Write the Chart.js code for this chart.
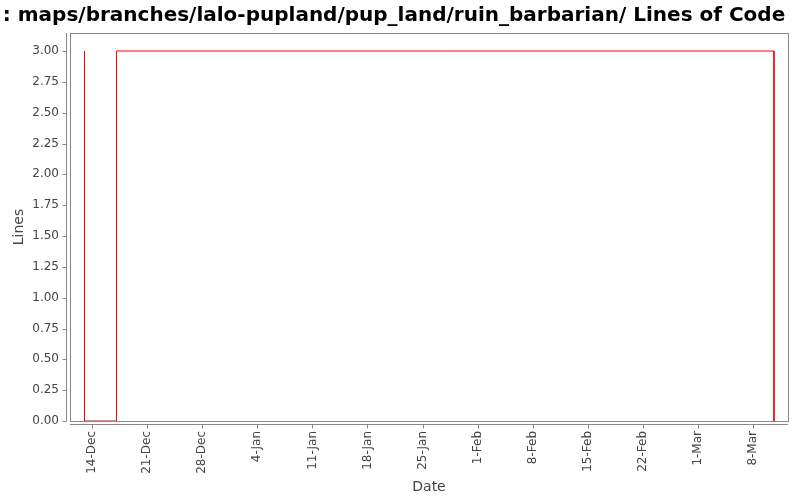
<!DOCTYPE html>
<html><head><meta charset="utf-8">
<script src="https://cdn.jsdelivr.net/npm/chart.js@4"></script>
<style>html,body{margin:0;padding:0;background:#fff}</style>
</head><body>
<canvas id="c" width="800" height="500" style="width:800px;height:500px"></canvas>
<script>
const titleText = ": maps/branches/lalo-pupland/pup_land/ruin_barbarian/ Lines of Code";
const dates = ["2008-12-13T01:12","2008-12-13T01:12","2008-12-17T02:46","2008-12-17T02:46","2009-03-10T15:22","2009-03-10T15:22"];
const lines = [3, 0, 0, 3, 3, 0];
const tickDates = ["2008-12-14","2008-12-21","2008-12-28","2009-01-04","2009-01-11","2009-01-18","2009-01-25","2009-02-01","2009-02-08","2009-02-15","2009-02-22","2009-03-01","2009-03-08"];
const yTicks = [0, 0.25, 0.5, 0.75, 1, 1.25, 1.5, 1.75, 2, 2.25, 2.5, 2.75, 3];
const axisRange = ["2008-12-11T05:00","2009-03-12T10:00"];
const yRange = [0, 3.146];
const monthNames = ["Jan","Feb","Mar","Apr","May","Jun","Jul","Aug","Sep","Oct","Nov","Dec"];

function toDay(s){ return Date.parse(s + (s.length===10 ? "T00:00:00Z" : ":00Z"))/86400000; }
function dayLabel(v){ const d=new Date(Math.round(v*86400000)); return d.getUTCDate()+"-"+monthNames[d.getUTCMonth()]; }

const points = dates.map((d,i)=>({x:toDay(d), y:lines[i]}));
const tickVals = tickDates.map(toDay);
const axisCol = "#888888";
const textCol = "#444444";

const frame = {
  id:'frame',
  afterDraw(chart){
    const {ctx, chartArea:a, scales} = chart;
    ctx.save();
    ctx.strokeStyle = axisCol; ctx.lineWidth = 1;
    ctx.strokeRect(Math.round(a.left)+0.5, Math.round(a.top)+0.5, Math.round(a.right-a.left), Math.round(a.bottom-a.top));
    const yl = Math.round(a.left)-4+0.5;
    ctx.beginPath(); ctx.moveTo(yl, a.top); ctx.lineTo(yl, a.bottom); ctx.stroke();
    scales.y.ticks.forEach(t=>{ const p=Math.round(scales.y.getPixelForValue(t.value))+0.5; ctx.beginPath(); ctx.moveTo(yl-4,p); ctx.lineTo(yl,p); ctx.stroke(); });
    const xl = Math.round(a.bottom)+3+0.5;
    ctx.beginPath(); ctx.moveTo(a.left, xl); ctx.lineTo(a.right, xl); ctx.stroke();
    scales.x.ticks.forEach(t=>{ const p=Math.round(scales.x.getPixelForValue(t.value))+0.5; ctx.beginPath(); ctx.moveTo(p,xl); ctx.lineTo(p,xl+4); ctx.stroke(); });
    ctx.restore();
  }
};

new Chart(document.getElementById('c'), {
  type:'line',
  data:{ datasets:[{ data:points, borderColor:'#ff0000', borderWidth:1, pointRadius:0, tension:0, fill:false }] },
  options:{
    responsive:false, animation:false, devicePixelRatio:1,
    layout:{ padding:{ left:0, right:12, top:0, bottom:0 } },
    plugins:{
      legend:{display:false}, tooltip:{enabled:false},
      title:{ display:true, text:titleText, color:'#000', font:{family:'DejaVu Sans', size:20, weight:'bold', lineHeight:1.2}, padding:{top:4,bottom:5} }
    },
    scales:{
      x:{ type:'linear', min:toDay(axisRange[0]), max:toDay(axisRange[1]),
        afterBuildTicks(s){ s.ticks = tickVals.map(v=>({value:v})); },
        afterFit(s){ s.height = 79; },
        border:{display:false},
        grid:{ display:true, drawOnChartArea:false, drawTicks:true, tickLength:7, color:'rgba(0,0,0,0)' },
        ticks:{ autoSkip:false, minRotation:90, maxRotation:90, padding:3, color:textCol, font:{family:'DejaVu Sans', size:12}, callback:(v)=>dayLabel(v) },
        title:{ display:true, text:'Date', color:textCol, font:{family:'DejaVu Sans', size:14}, padding:{top:0,bottom:4} }
      },
      y:{ min:yRange[0], max:yRange[1],
        afterBuildTicks(s){ s.ticks = yTicks.map(v=>({value:v})); },
        afterFit(s){ s.width = 70; },
        border:{display:false},
        grid:{ display:true, drawOnChartArea:false, drawTicks:true, tickLength:8, color:'rgba(0,0,0,0)' },
        ticks:{ padding:3, color:textCol, font:{family:'DejaVu Sans', size:12}, callback:(v)=>v.toFixed(2) },
        title:{ display:true, text:'Lines', color:textCol, font:{family:'DejaVu Sans', size:14}, padding:{top:11,bottom:0} }
      }
    }
  },
  plugins:[frame]
});
</script>
</body></html>
